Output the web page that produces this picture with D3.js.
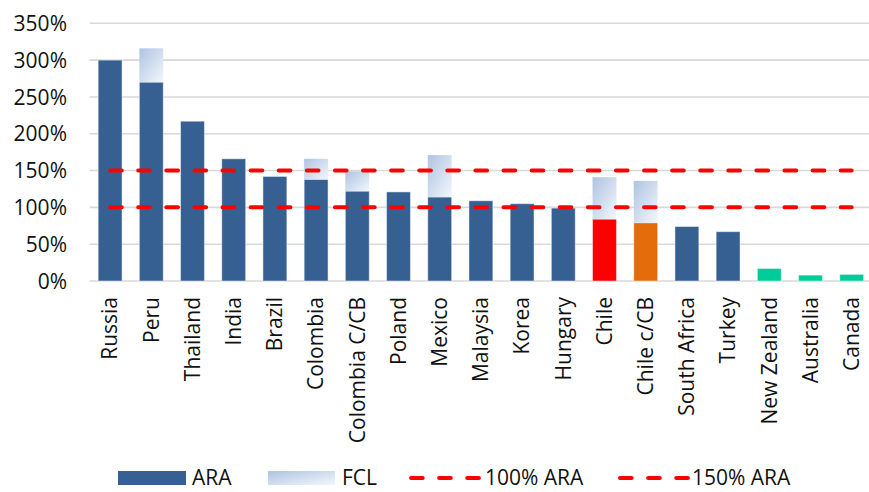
<!DOCTYPE html>
<html>
<head>
<meta charset="utf-8">
<script src="https://cdn.jsdelivr.net/npm/d3@7"></script>
<style>
  html, body { margin: 0; padding: 0; background: #fff; }
  svg { display: block; font-family: "Open Sans", sans-serif; }
</style>
</head>
<body>
<svg id="chart" width="869" height="492"></svg>
<script>
// ---- data ----
const categories = ["Russia","Peru","Thailand","India","Brazil","Colombia","Colombia C/CB","Poland","Mexico","Malaysia","Korea","Hungary","Chile","Chile c/CB","South Africa","Turkey","New Zealand","Australia","Canada"];
const araValues = [300,270,217,166,142,138,122,121,114,109,105,99,84,79,74,67,17,8,9];
const fclValues = [0,46,0,0,0,28,27,0,57,0,0,0,57,57,0,0,0,0,0];
const groups = ["em","em","em","em","em","em","em","em","em","em","em","em","chile","chilecb","em","em","adv","adv","adv"];
const line100 = [100,100,100,100,100,100,100,100,100,100,100,100,100,100,100,100,100,100,100];
const line150 = [150,150,150,150,150,150,150,150,150,150,150,150,150,150,150,150,150,150,150];
const yTicks = [0,50,100,150,200,250,300,350];
const legendLabels = ["ARA","FCL","100% ARA","150% ARA"];

// ---- layout ----
const svg = d3.select("#chart");
const plot = { left: 89.5, right: 872.3, top: 23.3, bottom: 281 };
const FS = 21;

const x = d3.scaleBand().domain(categories).range([plot.left, plot.right]).paddingInner(0.42).paddingOuter(0.21);
const y = d3.scaleLinear().domain([0, 350]).range([plot.bottom, plot.top]);
const color = d3.scaleOrdinal().domain(["em","chile","chilecb","adv"]).range(["#376092","#ff0000","#e46c0a","#00cc99"]);

// gradient
const defs = svg.append("defs");
const grad = defs.append("linearGradient").attr("id","fclGrad")
  .attr("x1","0").attr("y1","0").attr("x2","1").attr("y2","1");
grad.append("stop").attr("offset","0").attr("stop-color","#aec3e1");
grad.append("stop").attr("offset","1").attr("stop-color","#f3f7fc");

// gridlines
svg.append("g").selectAll("line").data(yTicks).join("line")
  .attr("x1", plot.left).attr("x2", plot.right)
  .attr("y1", d => y(d)).attr("y2", d => y(d))
  .attr("stroke", "#d9d9d9").attr("stroke-width", 1.6);

// y axis labels
const yAxis = d3.axisLeft(y).tickValues(yTicks).tickFormat(d => d + "%").tickSize(0).tickPadding(0);
const yg = svg.append("g").attr("transform", `translate(${67},0)`).call(yAxis);
yg.select(".domain").remove();
yg.selectAll("text").attr("font-size", FS).attr("font-family", "Open Sans").attr("fill", "#111").attr("dy","0.34em");

// data rows
const rows = categories.map((c, i) => ({ c, ara: araValues[i], fcl: fclValues[i], g: groups[i] }));

// ARA bars
svg.append("g").selectAll("rect").data(rows).join("rect")
  .attr("x", d => x(d.c)).attr("width", x.bandwidth())
  .attr("y", d => y(d.ara)).attr("height", d => y(0) - y(d.ara))
  .attr("fill", d => color(d.g))
  .attr("stroke", "rgba(255,255,255,0.45)").attr("stroke-width", 1);

// FCL bars
svg.append("g").selectAll("rect").data(rows.filter(d => d.fcl > 0)).join("rect")
  .attr("x", d => x(d.c)).attr("width", x.bandwidth())
  .attr("y", d => y(d.ara + d.fcl)).attr("height", d => y(d.ara) - y(d.ara + d.fcl))
  .attr("fill", "url(#fclGrad)");

// reference lines
const line = d3.line().x((d, i) => x(categories[i]) + x.bandwidth() / 2).y(d => y(d));
[line100, line150].forEach(arr => {
  svg.append("path").datum(arr).attr("d", line)
    .attr("fill", "none").attr("stroke", "#ff0000").attr("stroke-width", 4)
    .attr("stroke-linecap", "round").attr("stroke-dasharray", "11.7,16.4");
});

// x axis labels
const xAxis = d3.axisBottom(x).tickSize(0).tickPadding(0);
const xg = svg.append("g").attr("transform", `translate(0,${297})`).call(xAxis);
xg.select(".domain").remove();
xg.selectAll("text")
  .attr("font-size", FS).attr("font-family", "Open Sans").attr("fill", "#111")
  .attr("text-anchor", "end").attr("transform", "rotate(-90)")
  .attr("x", 0).attr("y", 0).attr("dy", "0.35em");

// legend
const lg = svg.append("g");
const ly = 478;
lg.append("rect").attr("x", 118).attr("y", ly - 7).attr("width", 68).attr("height", 14).attr("fill", "#376092");
lg.append("text").attr("x", 192).attr("y", ly).attr("dy","0.35em").text(legendLabels[0]);
lg.append("rect").attr("x", 268).attr("y", ly - 7).attr("width", 67).attr("height", 14).attr("fill", "url(#fclGrad)");
lg.append("text").attr("x", 342).attr("y", ly).attr("dy","0.35em").text(legendLabels[1]);
[[411, 485, legendLabels[2]], [620, 692, legendLabels[3]]].forEach(([lx, tx, t]) => {
  lg.append("line").attr("x1", lx).attr("x2", lx + 68).attr("y1", ly).attr("y2", ly)
    .attr("stroke", "#ff0000").attr("stroke-width", 4).attr("stroke-linecap", "round")
    .attr("stroke-dasharray", "11.7,16.4");
  lg.append("text").attr("x", tx).attr("y", ly).attr("dy","0.35em").text(t);
});
lg.selectAll("text").attr("font-size", FS).attr("font-family", "Open Sans").attr("fill", "#111");
</script>
</body>
</html>
